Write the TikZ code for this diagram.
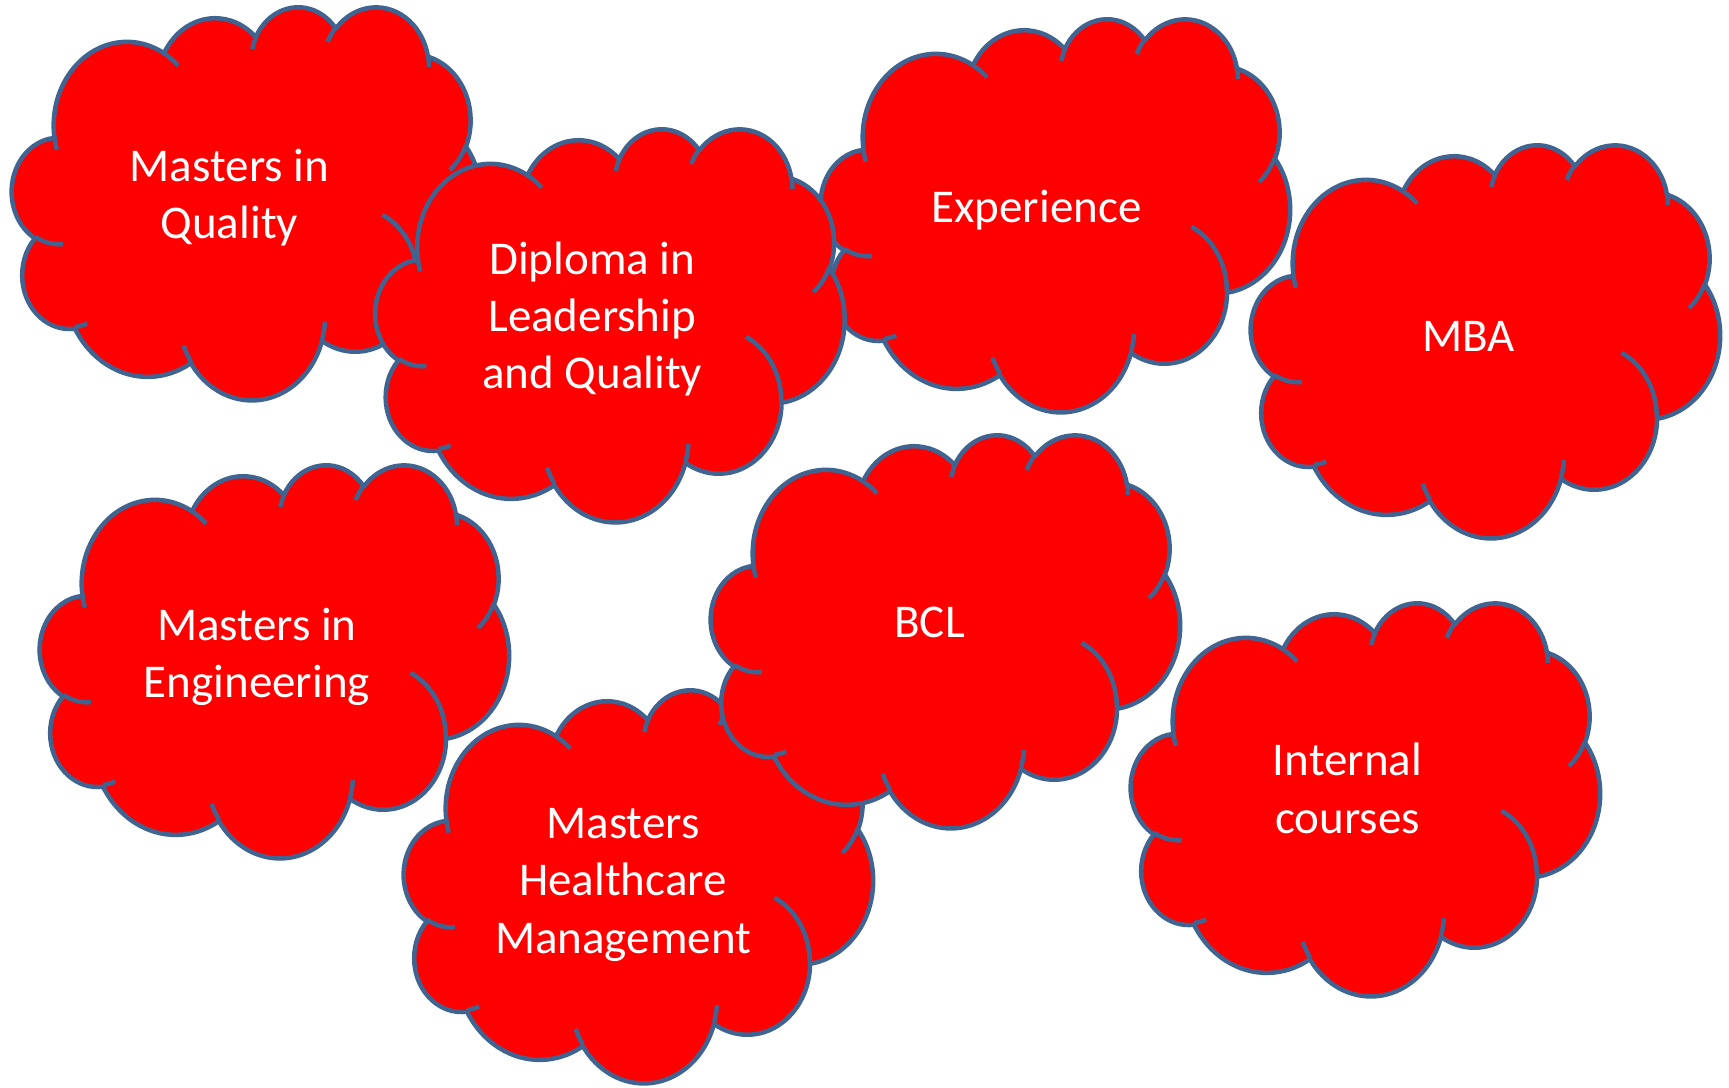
\documentclass[tikz,border=0pt]{standalone}
\usepackage{fontspec}
\setmainfont{Carlito}
\definecolor{cloudred}{RGB}{255,0,0}
\definecolor{cloudline}{RGB}{63,100,145}
% shape data in units of 1/432 of the box (OOXML 43200 / 100)
% OOXML angles are converted to parametric angles in the square shape space,
% then the arcs are scaled to the box
\newcommand\cloudcalc[4]{%
  \pgfmathsetmacro\cloudtmpa{#1/432*\cw}%
  \pgfmathsetmacro\cloudtmpb{#2/432*\ch}%
  \pgfmathsetmacro\cloudtmps{atan2(#1*sin(#3),#2*cos(#3))}%
  \pgfmathsetmacro\cloudtmpe{atan2(#1*sin(#3+#4),#2*cos(#3+#4))}%
  \pgfmathsetmacro\cloudtmpd{\cloudtmpe-\cloudtmps}%
  \pgfmathsetmacro\cloudtmpd{\cloudtmpd<0 ? \cloudtmpd+360 : \cloudtmpd}%
  \pgfmathsetmacro\cloudtmps{0-\cloudtmps}%
  \pgfmathsetmacro\cloudtmpd{0-\cloudtmpd}%
  \global\let\cRx\cloudtmpa
  \global\let\cRy\cloudtmpb
  \global\let\cSt\cloudtmps
  \global\let\cDl\cloudtmpd
}
\newcommand\pptcloud[4]{% left, top (y down), width, height
  \def\cw{#3}\def\ch{#4}%
  \pgfmathsetmacro\cx{#1}%
  \pgfmathsetmacro\cy{1087-#2}%
  \path[cloudbody] ({\cx+39.00/432*\cw},{\cy-143.70/432*\ch})
    \foreach \wr/\hr/\st/\sw in {67.53/91.90/-190.4875/123.7805,
      53.33/72.67/-144.1024/89.9452, 43.65/59.45/-145.8079/99.7230,
      48.57/65.95/-130.9861/117.2417, 53.33/72.73/-78.7089/109.0269,
      67.75/92.20/-46.2673/130.2690, 57.85/78.67/0.6250/114.0333,
      67.52/92.15/22.4516/115.1726, 77.20/105.43/66.2426/75.7110,
      43.60/59.18/-274.9421/146.7356, 43.45/59.45/-246.8285/152.5189}
    {\pgfextra{\cloudcalc{\wr}{\hr}{\st}{\sw}}
      arc[start angle=\cSt, delta angle=\cDl, x radius=\cRx pt, y radius=\cRy pt]}
    -- cycle;
  \foreach \px/\py/\wr/\hr/\st/\sw in {46.93/261.77/43.45/59.45/86.7420/26.4295,
      69.28/348.99/43.60/59.18/73.6105/11.4475,
      164.78/390.90/67.52/92.15/137.6242/14.0811,
      288.27/347.51/67.52/92.15/6.4533/15.9984,
      341.29/229.54/57.85/78.67/-70.2924/70.9174,
      417.98/153.54/53.33/72.73/30.3180/27.7515,
      383.24/54.26/48.57/65.95/-13.7443/14.8513,
      290.78/39.52/48.57/65.95/-149.1815/18.1986,
      221.41/47.20/43.65/59.45/-163.4943/17.6948,
      140.00/51.92/67.53/91.90/-66.7070/12.3194,
      41.27/157.89/67.53/91.90/157.6544/11.8582}
  {\cloudcalc{\wr}{\hr}{\st}{\sw}%
   \draw[cloudedge] ({\cx+\px/432*\cw},{\cy-\py/432*\ch})
     arc[start angle=\cSt, delta angle=\cDl, x radius=\cRx pt, y radius=\cRy pt];}
}
\tikzset{
  cloudbody/.style={fill=cloudred, draw=cloudline, line width=4.5pt, line join=round},
  cloudedge/.style={draw=cloudline, line width=4.5pt},
  lbl/.style={text=white, font=\fontsize{47}{57.3}\selectfont, align=center,
    anchor=base, inner sep=0pt}
}
\def\CW{469}\def\CH{393}
\begin{document}
\begin{tikzpicture}[x=1pt,y=1pt]
\useasboundingbox (0,0) rectangle (1729,1087);
\fill[white] (0,0) rectangle (1729,1087);
% Masters in Quality
\pptcloud{12}{6}{\CW}{\CH}
\node[lbl] (quality) at (229.4,{1087-239.0}) {Masters in\\Quality};
% Experience
\pptcloud{821}{18}{\CW}{\CH}
\node[lbl] (experience) at (1036.5,{1087-222.3}) {Experience};
% Diploma
\pptcloud{375.5}{128}{\CW}{\CH}
\node[lbl] (diploma) at (592.2,{1087-388.7}) {Diploma in\\Leadership\\and Quality};
% MBA
\pptcloud{1251}{144}{\CW}{\CH}
\node[lbl] (mba) at (1468.8,{1087-351.3}) {MBA};
% Engineering
\pptcloud{40}{464}{\CW}{\CH}
\node[lbl] (engineering) at (256.9,{1087-697.5}) {Masters in\\Engineering};
% Healthcare
\pptcloud{404}{689}{\CW}{\CH}
\node[lbl] (healthcare) at (623,{1087-953.3}) {Masters\\Healthcare\\Management};
% BCL
\pptcloud{711}{434}{\CW}{\CH}
\node[lbl] (bcl) at (929.6,{1087-638}) {BCL};
% Internal courses
\pptcloud{1131}{602}{\CW}{\CH}
\node[lbl] (internal) at (1347.5,{1087-833.2}) {Internal\\courses};
\end{tikzpicture}
\end{document}
